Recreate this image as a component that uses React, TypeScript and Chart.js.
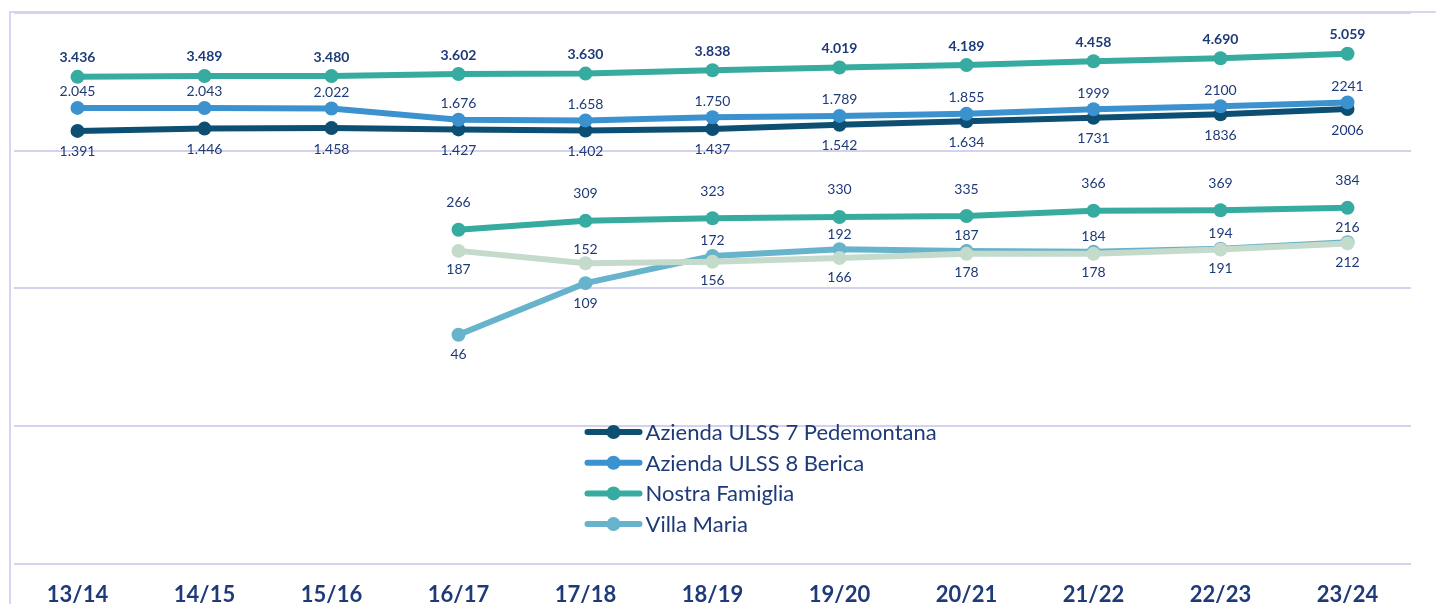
import React, { useEffect, useRef } from "react";
import { Chart, registerables } from "chart.js";

Chart.register(...registerables);

const categories = ["13/14", "14/15", "15/16", "16/17", "17/18", "18/19", "19/20", "20/21", "21/22", "22/23", "23/24"];
const ulss7 = [1391, 1446, 1458, 1427, 1402, 1437, 1542, 1634, 1731, 1836, 2006];
const ulss8 = [2045, 2043, 2022, 1676, 1658, 1750, 1789, 1855, 1999, 2100, 2241];
const nostraFamiglia = [3436, 3489, 3480, 3602, 3630, 3838, 4019, 4189, 4458, 4690, 5059];
const villaMaria = [null, null, null, 46, 109, 172, 192, 187, 184, 194, 216];
const nostraFamigliaB = [null, null, null, 266, 309, 323, 330, 335, 366, 369, 384];
const villaMariaB = [null, null, null, 187, 152, 156, 166, 178, 178, 191, 212];
const yTicks = [1, 10, 100, 1000, 10000];

const villaMariaSides = ["", "", "", "below", "below", "above", "above", "above", "above", "above", "above"];
const villaMariaBSides = ["", "", "", "below", "above", "below", "below", "below", "below", "below", "below"];

const TEXT = "#1e3a78";
const FONT = "Lato";

function fmt(v: number, dots: boolean) {
  if (!dots) return String(v);
  const s = String(v);
  return s.replace(/\B(?=(\d{3})+(?!\d))/g, ".");
}

const labelPlugin = {
  id: "pointValueLabels",
  afterDatasetsDraw(chart: any) {
    const ctx = chart.ctx;
    chart.data.datasets.forEach((ds: any, i: number) => {
      const meta = chart.getDatasetMeta(i);
      const cfg = ds.labelCfg;
      if (!cfg) return;
      meta.data.forEach((pt: any, j: number) => {
        const v = ds.data[j];
        if (v == null) return;
        const side = cfg.sides ? cfg.sides[j] : cfg.side;
        const dy = side === "above" ? -cfg.above : cfg.below;
        ctx.save();
        ctx.font = `${cfg.bold ? "bold " : ""}14px ${FONT}`;
        ctx.fillStyle = TEXT;
        ctx.textAlign = "center";
        ctx.textBaseline = "middle";
        ctx.fillText(fmt(v, j < cfg.dotsUntil), pt.x, pt.y + dy);
        ctx.restore();
      });
    });
  },
};

const legendPlugin = {
  id: "innerLegend",
  afterDraw(chart: any) {
    const ctx = chart.ctx;
    const xScale = chart.scales.x;
    const area = chart.chartArea;
    const x0 = xScale.getPixelForValue(4);
    const y0 = area.top + 419;
    const rowH = 30.7;
    chart.data.datasets.forEach((ds: any, i: number) => {
      if (!ds.inLegend) return;
      const y = y0 + i * rowH;
      ctx.save();
      ctx.strokeStyle = ds.borderColor;
      ctx.lineWidth = 6;
      ctx.lineCap = "round";
      ctx.beginPath();
      ctx.moveTo(x0 + 2, y);
      ctx.lineTo(x0 + 54, y);
      ctx.stroke();
      ctx.fillStyle = ds.borderColor;
      ctx.beginPath();
      ctx.arc(x0 + 28, y, 7, 0, Math.PI * 2);
      ctx.fill();
      ctx.font = `22px ${FONT}`;
      ctx.fillStyle = TEXT;
      ctx.textAlign = "left";
      ctx.textBaseline = "middle";
      ctx.fillText(ds.label, x0 + 60, y + 1);
      ctx.restore();
    });
  },
};

function makeDataset(label: string, data: any[], color: string, order: number, labelCfg: any, inLegend: boolean) {
  return {
    label,
    data,
    borderColor: color,
    backgroundColor: color,
    pointBackgroundColor: color,
    pointBorderColor: color,
    pointBorderWidth: 0,
    pointRadius: 7,
    pointHoverRadius: 7,
    borderWidth: 6,
    tension: 0,
    fill: false,
    order,
    labelCfg,
    inLegend,
  };
}

export default function App() {
  const ref = useRef<HTMLCanvasElement | null>(null);

  useEffect(() => {
    if (!ref.current) return;
    const chart = new Chart(ref.current, {
      type: "line",
      data: {
        labels: categories,
        datasets: [
          makeDataset("Azienda ULSS 7 Pedemontana", ulss7, "#0d4f73", 5, { side: "below", above: 16, below: 21, dotsUntil: 8 }, true),
          makeDataset("Azienda ULSS 8 Berica", ulss8, "#3b92cf", 4, { side: "above", above: 16, below: 20, dotsUntil: 8 }, true),
          makeDataset("Nostra Famiglia", nostraFamiglia, "#36ab9f", 3, { side: "above", above: 19, below: 20, dotsUntil: 11, bold: true }, true),
          makeDataset("Villa Maria", villaMaria, "#68b3cc", 2, { sides: villaMariaSides, above: 15, below: 20, dotsUntil: 0 }, true),
          makeDataset("Nostra Famiglia (2)", nostraFamigliaB, "#36ab9f", 1, { side: "above", above: 27, below: 20, dotsUntil: 0 }, false),
          makeDataset("Villa Maria (2)", villaMariaB, "#c4dbcc", 0, { sides: villaMariaBSides, above: 14, below: 19, dotsUntil: 0 }, false),
        ] as any,
      },
      options: {
        responsive: false,
        animation: false,
        layout: { padding: { left: 14, right: 25, top: 13, bottom: 12 } },
        plugins: {
          legend: { display: false },
          tooltip: { enabled: false },
        },
        scales: {
          x: {
            offset: true,
            grid: { display: false, drawTicks: false },
            border: { display: false },
            ticks: {
              color: TEXT,
              font: { family: FONT, size: 22, weight: "bold" },
              padding: 18,
              maxRotation: 0,
              autoSkip: false,
            },
          },
          y: {
            type: "logarithmic",
            min: 1,
            max: 10000,
            afterBuildTicks: (scale: any) => {
              scale.ticks = yTicks.map((v) => ({ value: v }));
            },
            grid: { color: "#d5d2f0", lineWidth: 2, drawTicks: false },
            border: { display: false },
            ticks: { display: false },
          },
        },
      },
      plugins: [labelPlugin, legendPlugin],
    } as any);
    return () => chart.destroy();
  }, []);

  return (
    <div style={{ position: "absolute", left: 0, top: 0, width: 1436, height: 604, overflow: "hidden", background: "#fff" }}>
      <div
        style={{
          position: "absolute",
          left: 9,
          top: 11,
          right: 0,
          bottom: 0,
          borderLeft: "2px solid #d8d5f2",
          borderTop: "2px solid #d8d5f2",
        }}
      />
      <canvas ref={ref} width={1436} height={638} style={{ position: "absolute", left: 0, top: 0 }} />
    </div>
  );
}
